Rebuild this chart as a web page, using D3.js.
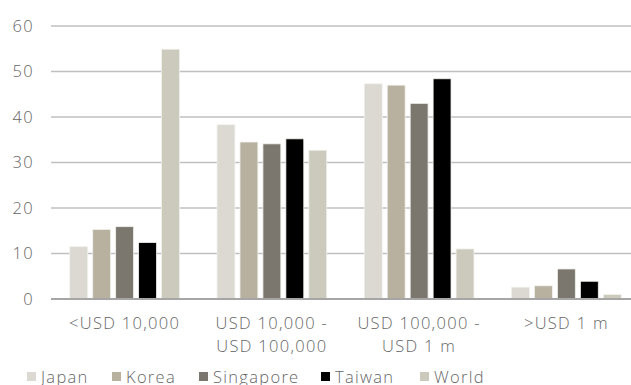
<!DOCTYPE html>
<html><head><meta charset="utf-8">
<script src="https://cdn.jsdelivr.net/npm/d3@7"></script>
<style>body{margin:0;background:#fff;overflow:hidden}svg{display:block}text{font-family:"Open Sans",sans-serif;font-weight:300}</style>
</head><body><svg id="c" width="631" height="385"></svg>
<script>
const categories = [["<USD 10,000"], ["USD 10,000 -", "USD 100,000"], ["USD 100,000 -", "USD 1 m"], [">USD 1 m"]];
const seriesNames = ["Japan", "Korea", "Singapore", "Taiwan", "World"];
const seriesColors = ["#dbd9d1", "#b8b1a0", "#7b776e", "#000000", "#cccabc"];
const japan = [11.5, 38.3, 47.3, 2.6];
const korea = [15.3, 34.5, 47.0, 2.9];
const singapore = [15.9, 34.1, 43.0, 6.6];
const taiwan = [12.4, 35.2, 48.4, 3.9];
const world = [54.9, 32.7, 11.0, 1.0];
const yTicks = [0, 10, 20, 30, 40, 50, 60];

const values = [japan, korea, singapore, taiwan, world];
const svg = d3.select("#c");
const pLeft = 51, pRight = 640, pTop = 26, pBottom = 299;
const txtColor = "#666666";
const fs = "16.5px", ls = "1.3px";
const x0 = d3.scaleBand().domain(d3.range(categories.length)).range([pLeft, pRight]).paddingInner(0.255).paddingOuter(0.1275);
const x1 = d3.scaleBand().domain(d3.range(seriesNames.length)).range([0, x0.bandwidth()]).paddingInner(0.22);
const y = d3.scaleLinear().domain([0, 60]).range([pBottom, pTop]);

// gridlines
svg.append("g").selectAll("line").data(yTicks.filter(d => d > 0)).join("line")
  .attr("x1", pLeft).attr("x2", 631).attr("y1", d => y(d)).attr("y2", d => y(d))
  .attr("stroke", "#c0c0c0").attr("stroke-width", 1.3);

// y axis labels
const yAxis = d3.axisLeft(y).tickValues(yTicks).tickSize(0).tickPadding(0);
const ya = svg.append("g").attr("transform", `translate(33,0)`).call(yAxis);
ya.select(".domain").remove();
ya.selectAll("text").attr("fill", txtColor).style("font-size", fs).style("letter-spacing", ls)
  .style("font-family", "'Open Sans',sans-serif").style("font-weight", 300).attr("dx", "1px");

// bars
const g = svg.append("g");
categories.forEach((c, ci) => {
  g.append("g").selectAll("rect").data(values.map((v, si) => ({si, v: v[ci]}))).join("rect")
    .attr("x", d => x0(ci) + x1(d.si))
    .attr("width", x1.bandwidth())
    .attr("y", d => y(d.v))
    .attr("height", d => y(0) - y(d.v))
    .attr("fill", d => seriesColors[d.si])
    .attr("stroke", "#f2f1ec").attr("stroke-width", 0.8);
});

// baseline
svg.append("line").attr("x1", pLeft).attr("x2", 631).attr("y1", y(0)).attr("y2", y(0))
  .attr("stroke", "#a6a6a6").attr("stroke-width", 2);

// x labels
categories.forEach((lines, ci) => {
  const t = svg.append("text").attr("text-anchor", "middle").attr("fill", txtColor).style("font-size", fs).style("letter-spacing", ls);
  lines.forEach((l, li) => t.append("tspan").attr("x", x0(ci) + x0.bandwidth() / 2).attr("y", 328.5 + li * 23).text(l));
});

// legend
const legendX = [27, 112, 199, 321, 420];
seriesNames.forEach((n, i) => {
  svg.append("rect").attr("x", legendX[i]).attr("y", 372).attr("width", 9).attr("height", 9).attr("fill", seriesColors[i]);
  svg.append("text").attr("x", legendX[i] + 14).attr("y", 383).attr("fill", txtColor).style("font-size", fs).style("letter-spacing", ls).text(n);
});
</script></body></html>
